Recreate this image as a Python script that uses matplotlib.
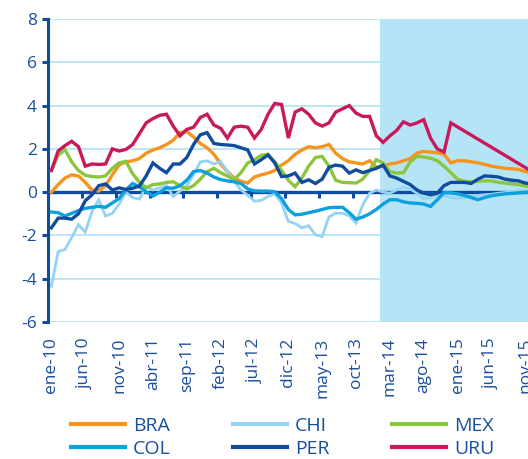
import numpy as np
import matplotlib.pyplot as plt

plt.rcParams['font.family'] = ['Open Sans', 'DejaVu Sans']
plt.rcParams['axes.unicode_minus'] = False

# monthly series, ene-10 .. dic-15
bra = [0.0, 0.35, 0.65, 0.8, 0.75, 0.45, 0.1, 0.05, 0.3, 0.8,
       1.25, 1.4, 1.45, 1.55, 1.8, 1.95, 2.05, 2.2, 2.4, 2.75,
       2.8, 2.55, 2.25, 2.05, 1.75, 1.3, 0.95, 0.65, 0.5, 0.42,
       0.7, 0.8, 0.88, 1.0, 1.25, 1.45, 1.75, 1.95, 2.1, 2.05,
       2.1, 2.2, 1.8, 1.55, 1.4, 1.35, 1.3, 1.45, 1.15, 1.2,
       1.3, 1.35, 1.45, 1.55, 1.8, 1.88, 1.85, 1.82, 1.75, 1.35,
       1.45, 1.45, 1.4, 1.35, 1.28, 1.2, 1.15, 1.1, 1.08, 1.05,
       0.95, 0.9]
chi = [-4.35, -2.75, -2.65, -2.1, -1.5, -1.85, -0.9, -0.35, -1.1, -0.98,
       -0.55, 0.0, -0.25, -0.32, 0.25, 0.1, 0.2, 0.3, -0.2, 0.05,
       0.3, 0.8, 1.4, 1.45, 1.3, 1.42, 0.95, 0.5, 0.1, -0.15,
       -0.42, -0.38, -0.2, -0.08, -0.5, -1.35, -1.45, -1.65, -1.55, -1.97,
       -2.05, -1.15, -0.97, -0.97, -1.1, -1.43, -0.58, -0.05, 0.1, 0.0,
       -0.05, 0.1, 0.22, 0.15, -0.05, -0.3, -0.25, -0.15, -0.15, -0.25,
       -0.28, -0.25, -0.2, -0.15, -0.12, -0.1, -0.05, -0.02, 0.02, 0.05,
       0.08, 0.1]
mex = [1.0, 1.7, 1.97, 1.4, 1.0, 0.78, 0.72, 0.7, 0.75, 1.1,
       1.35, 1.42, 0.85, 0.45, 0.2, 0.35, 0.38, 0.45, 0.48, 0.3,
       0.15, 0.3, 0.6, 0.95, 1.1, 0.9, 0.75, 0.58, 0.9, 1.35,
       1.5, 1.7, 1.75, 1.4, 1.0, 0.55, 0.25, 0.65, 1.2, 1.6,
       1.65, 1.2, 0.55, 0.45, 0.44, 0.42, 0.6, 1.0, 1.5, 1.35,
       0.95, 0.88, 0.9, 1.4, 1.65, 1.62, 1.57, 1.45, 1.2, 0.9,
       0.6, 0.5, 0.48, 0.5, 0.52, 0.52, 0.45, 0.42, 0.38, 0.35,
       0.28, 0.25]
col = [-0.92, -0.95, -1.1, -0.98, -0.85, -0.75, -0.7, -0.66, -0.7, -0.5,
       -0.3, 0.1, 0.4, 0.25, 0.02, -0.18, 0.0, 0.2, 0.18, 0.3,
       0.55, 0.95, 1.0, 0.88, 0.7, 0.58, 0.52, 0.48, 0.4, 0.15,
       0.06, 0.05, 0.05, 0.02, -0.3, -0.8, -1.05, -1.02, -0.95, -0.88,
       -0.8, -0.72, -0.7, -0.7, -0.95, -1.25, -1.15, -1.0, -0.8, -0.55,
       -0.35, -0.35, -0.45, -0.5, -0.52, -0.55, -0.66, -0.35, -0.02, -0.03,
       -0.08, -0.15, -0.25, -0.35, -0.25, -0.17, -0.12, -0.08, -0.06, -0.03,
       -0.01, 0.0]
per = [-1.65, -1.2, -1.2, -1.25, -1.0, -0.4, -0.12, 0.3, 0.38, 0.1,
       0.2, 0.12, 0.18, 0.28, 0.75, 1.35, 1.1, 0.9, 1.3, 1.3,
       1.6, 2.2, 2.65, 2.75, 2.25, 2.2, 2.18, 2.15, 2.05, 1.95,
       1.3, 1.5, 1.72, 1.35, 0.72, 0.75, 0.88, 0.45, 0.57, 0.4,
       0.6, 1.15, 1.25, 1.2, 0.88, 1.03, 0.9, 1.0, 1.1, 1.25,
       0.75, 0.65, 0.5, 0.35, 0.1, -0.05, -0.12, -0.05, 0.3, 0.45,
       0.45, 0.45, 0.4, 0.6, 0.75, 0.73, 0.7, 0.6, 0.55, 0.52,
       0.42, 0.38]
uru = [1.0, 1.9, 2.15, 2.35, 2.1, 1.2, 1.3, 1.28, 1.3, 2.0,
       1.9, 1.97, 2.2, 2.7, 3.2, 3.4, 3.55, 3.6, 3.05, 2.6,
       2.9, 3.0, 3.45, 3.6, 3.1, 2.95, 2.5, 3.0, 3.05, 3.0,
       2.5, 2.9, 3.6, 4.1, 4.05, 2.5, 3.7, 3.85, 3.6, 3.2,
       3.05, 3.2, 3.7, 3.85, 4.0, 3.65, 3.5, 3.5, 2.6, 2.3,
       2.6, 2.85, 3.25, 3.1, 3.2, 3.35, 2.5, 2.0, 1.85, 3.2,
       None, None, None, None, None, None, None, None, None, None,
       None, 0.95]

tick_labels = ['ene-10', 'jun-10', 'nov-10', 'abr-11', 'sep-11', 'feb-12',
               'jul-12', 'dic-12', 'may-13', 'oct-13', 'mar-14', 'ago-14',
               'ene-15', 'jun-15', 'nov-15']
proj_start = 49  # feb-14

dark = '#0f4c9c'
txt = '#1a4f9c'
shade = '#b6e4f7'

series = [('BRA', bra, '#f7941d'), ('CHI', chi, '#93d3f3'),
          ('MEX', mex, '#8cc63e'), ('COL', col, '#0ca0e0'),
          ('PER', per, '#0f4c9c'), ('URU', uru, '#c8195b')]

fig = plt.figure(figsize=(5.28, 4.59), dpi=100)
ax = fig.add_axes([48 / 528, 137 / 459, 480 / 528, 303 / 459])

for name, vals, c in series:
    x = [i + 0.5 for i, v in enumerate(vals) if v is not None]
    y = [v for v in vals if v is not None]
    lw = 2.0 if name == 'CHI' else 2.4
    ax.plot(x, y, color=c, lw=lw, label=name, zorder=3,
            solid_joinstyle='miter')

ax.axvspan(proj_start, 80, color=shade, lw=0, zorder=1)
ax.set_xlim(0, 480 / 6.77)
ax.set_ylim(-6, 8)
ax.set_yticks(range(-6, 9, 2))
ax.yaxis.grid(True, color=shade, lw=1.3, zorder=0)
ax.set_axisbelow(True)

for s in ['top', 'right']:
    ax.spines[s].set_visible(False)
ax.spines['left'].set_color(dark)
ax.spines['left'].set_linewidth(2.2)
ax.spines['bottom'].set_position(('data', 0))
ax.spines['bottom'].set_color(dark)
ax.spines['bottom'].set_linewidth(2.4)
ax.spines['bottom'].set_zorder(2)

ax.tick_params(axis='y', colors=dark, length=4, width=2.2, pad=4,
               labelsize=12.5, labelcolor=txt)
ax.set_xticks(range(0, 71, 5))
ax.tick_params(axis='x', colors=dark, length=4, width=2.2,
               labelbottom=False)

sec = ax.secondary_xaxis(0.0)
sec.set_xticks([k + 0.5 for k in range(0, 71, 5)])
sec.set_xticklabels(tick_labels, rotation=90, fontsize=12.5, color=txt)
sec.tick_params(length=0, pad=11)
sec.spines['bottom'].set_visible(False)

h, l = ax.get_legend_handles_labels()
order = [0, 3, 1, 4, 2, 5]
leg = fig.legend([h[i] for i in order], [l[i] for i in order], ncol=3,
                 loc='lower center', bbox_to_anchor=(0.535, -0.035),
                 frameon=False, fontsize=14, handlelength=2.8,
                 handletextpad=0.4, columnspacing=3.2, labelspacing=0.25)
for t in leg.get_texts():
    t.set_color(txt)
for ln in leg.get_lines():
    ln.set_linewidth(3)

fig.savefig('out.png', dpi=100)
